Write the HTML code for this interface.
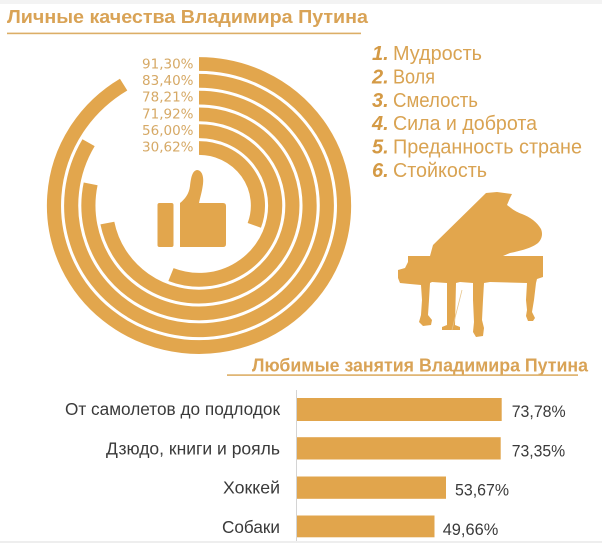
<!DOCTYPE html>
<html><head><meta charset="utf-8"><style>
html,body{margin:0;padding:0;background:#fff;}
svg{display:block;}
</style></head><body>
<svg width="602" height="543" viewBox="0 0 602 543" xmlns="http://www.w3.org/2000/svg">
<rect x="0" y="0" width="602" height="543" fill="#ffffff"/>
<rect x="0" y="0" width="602" height="4" fill="#f3f3f3"/>

<!-- Title top -->
<text x="7" y="23" font-family="Liberation Sans, sans-serif" font-weight="bold" font-size="18" fill="#d9a356" textLength="361" lengthAdjust="spacingAndGlyphs">Личные качества Владимира Путина</text>
<rect x="7" y="32.6" width="354" height="1.6" fill="#dcae66"/>

<!-- Rings -->
<g transform="translate(199,205.5) scale(1.025,1)" fill="none" stroke="#e2a64d" stroke-width="13.8" stroke-linecap="butt">
<path d="M0,-141.5 A141.5,141.5 0 1 1 -73.55,-120.88"/>
<path d="M0,-124.7 A124.7,124.7 0 1 1 -107.73,-62.80"/>
<path d="M0,-107.9 A107.9,107.9 0 1 1 -105.71,-21.62"/>
<path d="M0,-91.1 A91.1,91.1 0 1 1 -89.40,17.52"/>
<path d="M0,-74.3 A74.3,74.3 0 1 1 -27.35,69.08"/>
<path d="M0,-57.5 A57.5,57.5 0 0 1 53.95,19.88"/>
</g>

<!-- ring labels -->
<g font-family="DejaVu Sans, sans-serif" font-size="13.5" fill="#d6a966" text-anchor="end">
<text x="193.5" y="68.3">91,30%</text>
<text x="193.5" y="85">83,40%</text>
<text x="193.5" y="101.7">78,21%</text>
<text x="193.5" y="118.3">71,92%</text>
<text x="193.5" y="135">56,00%</text>
<text x="193.5" y="151.7">30,62%</text>
</g>

<!-- Thumb -->
<rect x="157.5" y="203" width="16" height="44" rx="2" fill="#e2a64d"/>
<path d="M180,247 L180,203 C185,199 189,194 190,186 C191,178 192,171 197,170 C202,170 204,177 203,184 C202,192 200,198 199,203 L223,203 Q226,203 226,206 L226,244 Q226,247 223,247 Z" fill="#e2a64d"/>

<!-- Legend -->
<g font-family="Liberation Sans, sans-serif" font-size="20" fill="#d9a352">
<text x="372" y="60" font-weight="bold" font-style="italic" fill="#d49a45">1.</text>
<text x="393" y="60" textLength="89" lengthAdjust="spacingAndGlyphs">Мудрость</text>
<text x="372" y="83.4" font-weight="bold" font-style="italic" fill="#d49a45">2.</text>
<text x="393" y="83.4" textLength="42" lengthAdjust="spacingAndGlyphs">Воля</text>
<text x="372" y="106.8" font-weight="bold" font-style="italic" fill="#d49a45">3.</text>
<text x="393" y="106.8" textLength="85" lengthAdjust="spacingAndGlyphs">Смелость</text>
<text x="372" y="130.2" font-weight="bold" font-style="italic" fill="#d49a45">4.</text>
<text x="393" y="130.2" textLength="144" lengthAdjust="spacingAndGlyphs">Сила и доброта</text>
<text x="372" y="153.6" font-weight="bold" font-style="italic" fill="#d49a45">5.</text>
<text x="393" y="153.6" textLength="189" lengthAdjust="spacingAndGlyphs">Преданность стране</text>
<text x="372" y="177" font-weight="bold" font-style="italic" fill="#d49a45">6.</text>
<text x="393" y="177" textLength="94" lengthAdjust="spacingAndGlyphs">Стойкость</text>
</g>

<!-- Piano -->
<path fill="#e2a64d" d="M486,193 L497,192 L512,194 L510,198 L507,205 C512,209 516,212 522,214 C530,217 537,222 541,229 C543,234 542,239 538,243 C532,248 520,251 510,253 L503,256 L543,256 L543,277 L537,279 L536,283 L534,300 L532,312 L535,318 L533,321 L528,321 L526,316 L527,310 L526,300 L527,283 L490,282 L484,283 L483,300 L482,320 L484,328 L483,336 L476,337 L473,332 L474,322 L473,300 L473,283 L460,282 L456,283 L455,325 L460,327 L460,330 L442,330 L442,327 L447,325 L447,283 L432,282 L430,283 L429,300 L428,315 L432,320 L431,325 L423,326 L419,322 L421,315 L422,300 L421,285 L410,284 L400,283 L398,278 L398,270 L405,268 L408,262 L408,256 L430,256 L433,245 Z"/>
<line x1="462" y1="290" x2="452" y2="330" stroke="#e8c48a" stroke-width="0.8"/>

<!-- Bottom title -->
<text x="252" y="371.7" font-family="Liberation Sans, sans-serif" font-weight="bold" font-size="18" fill="#d9a356" textLength="336" lengthAdjust="spacingAndGlyphs">Любимые занятия Владимира Путина</text>
<rect x="227" y="374.3" width="351" height="1.6" fill="#dcae66"/>

<!-- Axis -->
<rect x="296" y="390" width="1" height="153" fill="#d4d4d4"/>

<!-- Bars -->
<g fill="#e1a54c">
<rect x="297" y="398" width="204.7" height="23"/>
<rect x="297" y="437.2" width="203.7" height="22.3"/>
<rect x="297" y="476.5" width="149" height="22.3"/>
<rect x="297" y="515.5" width="137.5" height="21.8"/>
</g>

<!-- Category labels -->
<g font-family="Liberation Sans, sans-serif" font-size="17.5" fill="#3a3a3a">
<text x="65" y="415" textLength="215" lengthAdjust="spacingAndGlyphs">От самолетов до подлодок</text>
<text x="106" y="454.5" textLength="174" lengthAdjust="spacingAndGlyphs">Дзюдо, книги и рояль</text>
<text x="223" y="493.5" textLength="57" lengthAdjust="spacingAndGlyphs">Хоккей</text>
<text x="222" y="533" textLength="58" lengthAdjust="spacingAndGlyphs">Собаки</text>
</g>

<!-- Values -->
<g font-family="Liberation Sans, sans-serif" font-size="17" fill="#3a3a3a">
<text x="511.7" y="417" textLength="54" lengthAdjust="spacingAndGlyphs">73,78%</text>
<text x="511.7" y="456.7" textLength="53.5" lengthAdjust="spacingAndGlyphs">73,35%</text>
<text x="455" y="495.7" textLength="54" lengthAdjust="spacingAndGlyphs">53,67%</text>
<text x="442.7" y="535" textLength="55.6" lengthAdjust="spacingAndGlyphs">49,66%</text>
</g>
<rect x="0" y="541" width="602" height="2" fill="#eeeeee"/>
</svg>
</body></html>
